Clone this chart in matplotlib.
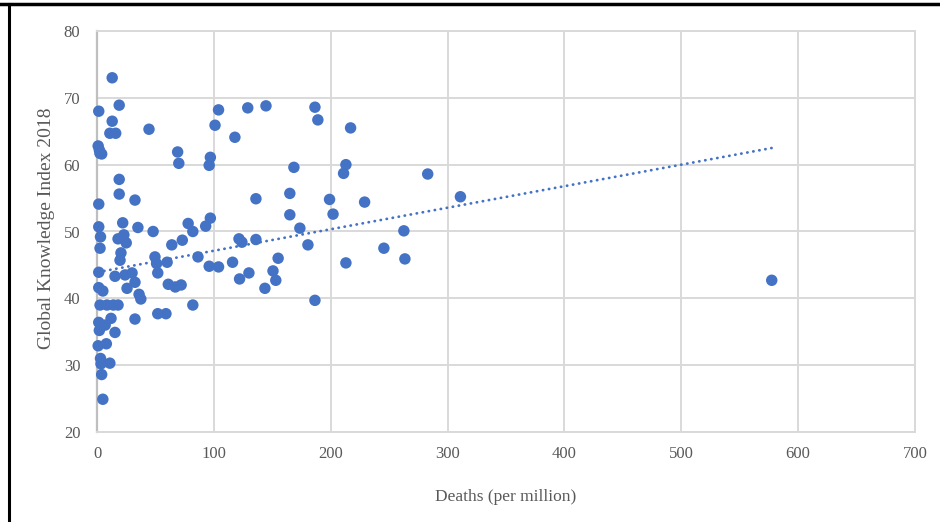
import matplotlib
matplotlib.use("Agg")
import matplotlib.pyplot as plt
from matplotlib.lines import Line2D
import numpy as np

# Deaths (per million) vs Global Knowledge Index 2018
deaths = [13, 19, 1.5, 13, 11, 16, 44.5,
          1, 2, 2.5, 4,
          69, 70, 97, 96, 104, 129, 144.6, 186.5, 189, 217, 101, 118,
          168.5, 213, 211, 283, 311,
          19, 19, 32.5, 1.5, 136, 165, 165, 199, 202, 229,
          22, 35, 48, 1.5, 78, 82, 93, 97, 173.6, 262.6,
          3, 18, 23, 25, 20.5, 19.7, 2.6,
          64, 73, 121.5, 124, 136, 180.5, 245.5,
          49.6, 51, 52, 60, 86.4, 96, 104, 116, 155, 213, 263.5,
          1.5, 15.4, 24, 30, 32.5, 25.7, 1.5, 5, 36, 37.5,
          61, 67, 72, 122, 130, 150.6, 153, 143.7, 186.5, 82, 577.4,
          2.6, 8.5, 14, 18,
          52, 59, 32.5, 1.5, 7, 12, 2, 15.4, 1, 8, 3, 11, 3.4, 4, 5]
gki = [73, 68.9, 68, 66.5, 64.7, 64.7, 65.3,
       62.8, 62.2, 61.7, 61.6,
       61.9, 60.2, 61.1, 59.9, 68.2, 68.5, 68.8, 68.6, 66.7, 65.5, 65.9, 64.1,
       59.6, 60, 58.7, 58.6, 55.2,
       57.8, 55.6, 54.7, 54.1, 54.9, 55.7, 52.5, 54.8, 52.6, 54.4,
       51.3, 50.6, 50, 50.7, 51.2, 50, 50.8, 52, 50.5, 50.1,
       49.2, 48.9, 49.5, 48.3, 46.8, 45.7, 47.5,
       48, 48.7, 48.9, 48.4, 48.8, 48, 47.5,
       46.2, 45.2, 43.8, 45.4, 46.2, 44.8, 44.7, 45.4, 46, 45.3, 45.9,
       43.9, 43.3, 43.5, 43.8, 42.4, 41.5, 41.6, 41.1, 40.6, 39.9,
       42.1, 41.7, 42, 42.9, 43.8, 44.1, 42.7, 41.5, 39.7, 39, 42.7,
       39, 39, 39, 39,
       37.7, 37.7, 36.9, 36.4, 36, 37, 35.2, 34.9, 32.9, 33.2, 31, 30.3, 30.2, 28.6, 24.9]

# Linear trendline as shown on the chart
trend_intercept = 43.9
trend_slope = 0.0322

x_ticks = [0, 100, 200, 300, 400, 500, 600, 700]
y_ticks = [20, 30, 40, 50, 60, 70, 80]

plt.rcParams['font.family'] = ['Liberation Serif', 'DejaVu Serif']

fig = plt.figure(figsize=(9.4, 5.22), dpi=100)
fig.patch.set_facecolor('white')
ax = fig.add_axes([97/940, 1-432/522, (915-97)/940, (432-31)/522])

grid_c = '#D9D9D9'
ax.set_xlim(0, 700)
ax.set_ylim(20, 80)
ax.set_xticks(x_ticks)
ax.set_yticks(y_ticks)
ax.grid(True, color=grid_c, linewidth=1.4, zorder=0)
ax.set_axisbelow(True)
for s in ['top', 'right']:
    ax.spines[s].set_color(grid_c)
    ax.spines[s].set_linewidth(1.4)
ax.spines['bottom'].set_color(grid_c)
ax.spines['bottom'].set_linewidth(1.4)
ax.spines['left'].set_color('#BFBFBF')
ax.spines['left'].set_linewidth(1.6)
ax.tick_params(length=0, labelsize=12, colors='#595959', pad=12)
ax.tick_params(axis='x', pad=10)

ax.scatter(deaths, gki, s=68, color='#4472C4', edgecolors='none', zorder=3, clip_on=False)

xs = np.array([min(deaths), max(deaths)])
ax.plot(xs, trend_intercept + trend_slope * xs, color='#4472C4', linewidth=2,
        linestyle=(0, (0.1, 2.1)), dash_capstyle='round', zorder=4)

fig.text(506/940, 1-497/522, 'Deaths (per million)', ha='center', va='center',
         fontsize=12.5, color='#595959')
fig.text(47/940, 1-228/522, 'Global Knowledge Index 2018', ha='center', va='center',
         fontsize=14, color='#595959', rotation=90)

# black border of the screenshot (top and left)
fig.add_artist(Line2D([0, 1], [1-4/522, 1-4/522], color='black', linewidth=2.5,
                      transform=fig.transFigure))
fig.add_artist(Line2D([9/940, 9/940], [0, 1-4/522], color='black', linewidth=2.2,
                      transform=fig.transFigure))

fig.savefig('out.png', dpi=100, facecolor='white')
